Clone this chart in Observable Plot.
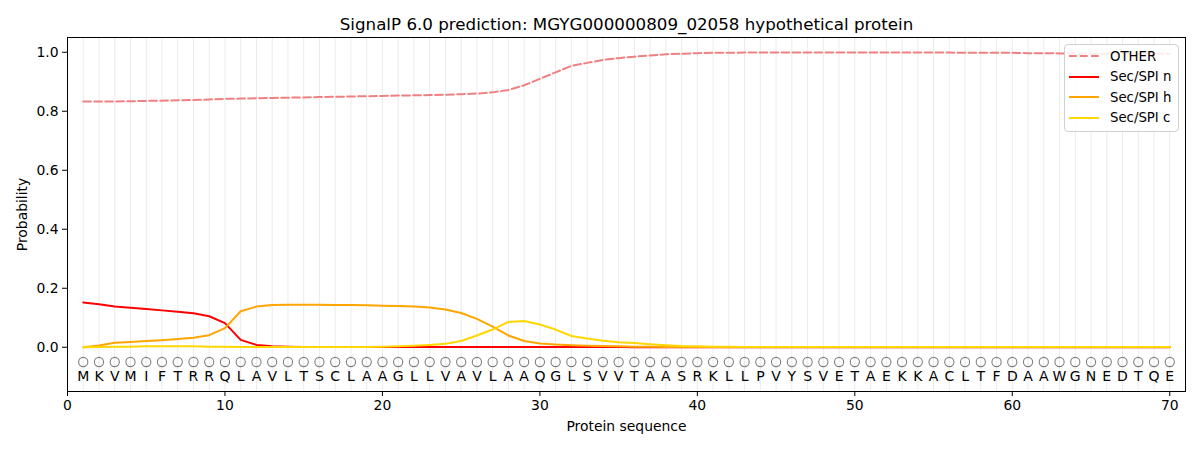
<!DOCTYPE html>
<html><head><meta charset="utf-8">
<script src="https://cdn.jsdelivr.net/npm/d3@7"></script>
<script src="https://cdn.jsdelivr.net/npm/@observablehq/plot@0.6"></script>
<style>
body{margin:0;background:#fff;font-family:"DejaVu Sans",sans-serif;}
#wrap{position:relative;width:1200px;height:450px;}
#legend{position:absolute;left:1064px;top:44px;width:115px;height:88px;border:1px solid #d0d0d0;border-radius:4px;background:rgba(255,255,255,0.85);font-size:13.3px;color:#000;box-sizing:border-box;}
.row{position:absolute;left:0;height:20px;display:flex;align-items:center;white-space:nowrap;}
.row svg{margin-left:4px;margin-right:11px;flex:none;}
</style></head><body>
<div id="wrap"><div id="chart"></div><div id="legend"></div></div>
<script>
const positions = d3.range(1, 71);
const residues = "MKVMIFTRRQLAVLTSCLAAGLLVAVLAAQGLSVVTAASRKLLPVYSVETAEKKACLTFDAAWGNEDTQE".split("");
const other = [0.833,0.833,0.833,0.834,0.835,0.836,0.837,0.838,0.840,0.842,
0.843,0.844,0.845,0.846,0.847,0.848,0.849,0.850,0.851,0.852,
0.853,0.854,0.855,0.856,0.858,0.860,0.864,0.872,0.888,0.910,
0.932,0.954,0.964,0.974,0.980,0.985,0.989,0.993,0.995,0.997,
0.998,0.998,0.999,0.999,0.999,0.999,0.999,0.999,0.999,0.999,
0.999,0.999,0.999,0.999,0.999,0.999,0.998,0.998,0.998,0.998,
0.997,0.997,0.996,0.996,0.995,0.995,0.995,0.995,0.995,0.995];
const secN = [0.152,0.146,0.138,0.134,0.130,0.125,0.120,0.115,0.105,0.082,
0.025,0.008,0.003,0.002,0.001,0.001,0.001,0.001,0.001,0.001,
0.001,0.001,0.001,0.001,0.001,0.001,0.001,0.001,0.001,0.001,
0.001,0.001,0.001,0.001,0.001,0,0,0,0,0,
0,0,0,0,0,0,0,0,0,0,
0,0,0,0,0,0,0,0,0,0,
0,0,0,0,0,0,0,0,0,0];
const secH = [0.000,0.006,0.015,0.018,0.021,0.024,0.028,0.032,0.041,0.065,
0.122,0.138,0.143,0.144,0.144,0.144,0.143,0.143,0.142,0.141,
0.140,0.138,0.135,0.128,0.116,0.096,0.070,0.040,0.021,0.013,
0.009,0.007,0.005,0.004,0.003,0.002,0.002,0.001,0.001,0.001,
0.001,0.001,0.001,0.001,0.001,0.001,0.001,0.001,0.001,0.001,
0.001,0.001,0.001,0.001,0.001,0.001,0.001,0.001,0.001,0.001,
0.001,0.001,0.001,0.001,0.001,0.001,0.001,0.001,0.001,0.001];
const secC = [0.000,0.001,0.002,0.002,0.003,0.003,0.003,0.003,0.002,0.002,
0.001,0.001,0.001,0.001,0.001,0.001,0.001,0.001,0.001,0.002,
0.003,0.005,0.008,0.012,0.021,0.040,0.060,0.086,0.089,0.077,
0.060,0.038,0.030,0.022,0.017,0.014,0.010,0.007,0.004,0.003,
0.002,0.002,0.001,0.001,0.001,0.001,0.001,0.001,0.001,0.001,
0.001,0.001,0.001,0.001,0.001,0.001,0.001,0.001,0.001,0.001,
0.001,0.001,0.001,0.001,0.001,0.001,0.001,0.001,0.001,0.001];
const seriesNames = ["OTHER","Sec/SPI n","Sec/SPI h","Sec/SPI c"];
const seriesColors = ["#f08080","#ff0000","#ffa500","#ffd700"];
const xTicks = [0,10,20,30,40,50,60,70];
const yTicks = [0,0.2,0.4,0.6,0.8,1.0];
const title = "SignalP 6.0 prediction: MGYG000000809_02058 hypothetical protein";

const rows = positions.map((p,i)=>({p, r: residues[i], other: other[i], n: secN[i], h: secH[i], c: secC[i]}));
const circleY = -0.05, letterY = -0.098;

const chart = Plot.plot({
  width: 1200, height: 450,
  marginLeft: 67, marginRight: 15, marginTop: 37, marginBottom: 59,
  style: {fontFamily: "DejaVu Sans, sans-serif", fontSize: "13.9px", background: "#fff", color: "#000"},
  x: {domain: [0, 71]},
  y: {domain: [-0.15, 1.05]},
  marks: [
    Plot.ruleX(positions, {x: d => d, stroke: "#ebebeb", strokeWidth: 1}),
    Plot.line(rows, {x: "p", y: "other", stroke: seriesColors[0], strokeWidth: 2, strokeDasharray: "7.7,3.3"}),
    Plot.line(rows, {x: "p", y: "n", stroke: seriesColors[1], strokeWidth: 2}),
    Plot.line(rows, {x: "p", y: "h", stroke: seriesColors[2], strokeWidth: 2}),
    Plot.line(rows, {x: "p", y: "c", stroke: seriesColors[3], strokeWidth: 2}),
    Plot.dot(rows, {x: "p", y: () => circleY, r: 4.6, stroke: "#808080", strokeWidth: 1.1, fill: "none"}),
    Plot.text(rows, {x: "p", y: () => letterY, text: "r", fontSize: 14, fill: "#000"}),
    Plot.axisX({ticks: xTicks, tickSize: 5, tickPadding: 4, tickFormat: d => String(d), label: "Protein sequence", labelAnchor: "center", labelArrow: "none", labelOffset: 39, fontSize: 13.9}),
    Plot.axisY({ticks: yTicks, tickSize: 5, tickPadding: 4, tickFormat: d3.format(".1f"), label: "Probability", labelAnchor: "center", labelArrow: "none", labelOffset: 50, fontSize: 13.9}),
    Plot.frame({stroke: "#000", strokeWidth: 1}),
    Plot.text([title], {frameAnchor: "top", dy: -19, text: d => d, fontSize: 16.7, fill: "#000"})
  ]
});
document.getElementById("chart").appendChild(chart);

const leg = document.getElementById("legend");
seriesNames.forEach((name, i) => {
  const row = document.createElement("div");
  row.className = "row";
  row.style.top = (1 + i * 20.5) + "px";
  const dash = i === 0 ? 'stroke-dasharray="7.7,3.3"' : '';
  row.innerHTML = `<svg width="30" height="6"><line x1="0" x2="30" y1="3" y2="3" stroke="${seriesColors[i]}" stroke-width="2" ${dash}/></svg><span>${name}</span>`;
  leg.appendChild(row);
});
</script>
</body></html>
